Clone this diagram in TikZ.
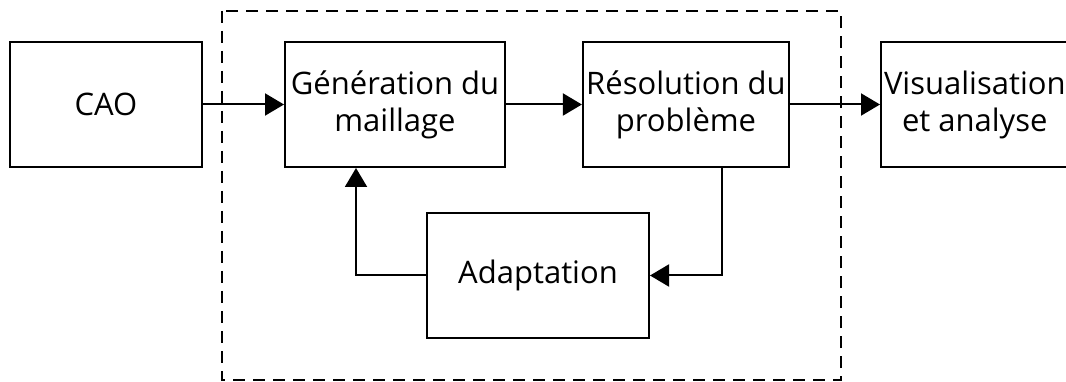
\documentclass[tikz,border=0pt]{standalone}
\usepackage{fontspec}
\setmainfont{Open Sans}
\usetikzlibrary{positioning,arrows.meta,calc}

\tikzset{
  bloc/.style={draw, line width=2pt, minimum height=125pt, align=center,
    font=\fontsize{31pt}{37pt}\selectfont},
  fleche/.style={-{Triangle[length=19pt,width=22pt]}, line width=2pt}
}

\begin{document}
\begin{tikzpicture}[x=1pt,y=-1pt]
      \useasboundingbox (0,0) rectangle (1066,382);

      % zone en pointilles
      \draw[line width=2pt, dash pattern=on 12pt off 8pt] (222,11) rectangle (841,380);

      \node[bloc, minimum width=192pt] (cao) at (106,104.5) {CAO};
      \node[bloc, minimum width=220pt] (gen) at (395,104.5) {Génération du\\maillage};
      \node[bloc, minimum width=204pt] (res) at (686,104.5) {Résolution du\\problème};
      \node[bloc, anchor=west, inner xsep=3pt] (vis) at (880,104.5) {Visualisation\\et analyse};
      \node[bloc, minimum width=222pt] (adapt) at (538,275.5) {Adaptation};

      \draw[fleche] (cao) -- (gen);
      \draw[fleche] (gen) -- (res);
      \draw[fleche] (res) -- (vis);
      \draw[fleche] ([xshift=36pt]res.south) |- (adapt.east);
      \draw[fleche] (adapt.west) -| ([xshift=-39pt]gen.south);
    \end{tikzpicture}
\end{document}
